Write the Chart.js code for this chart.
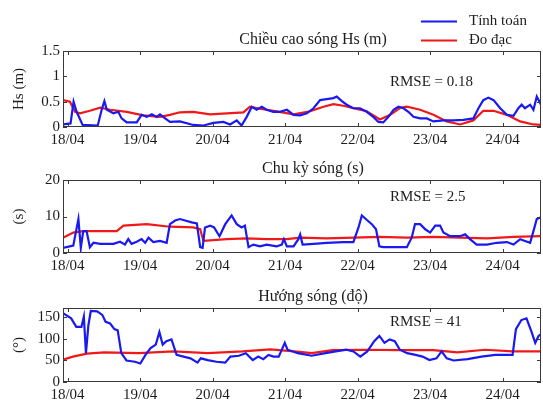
<!DOCTYPE html>
<html>
<head>
<meta charset="utf-8">
<script src="https://cdn.jsdelivr.net/npm/chart.js@4.4.0/dist/chart.umd.min.js"></script>
<style>
  html, body { margin: 0; padding: 0; background: #fff; }
  #wrap { position: relative; width: 543px; height: 405px; }
  .pane { position: absolute; left: 0; width: 543px; }
</style>
</head>
<body>
<div id="wrap">
  <div class="pane" style="top:0;height:150px"><canvas id="cHs" width="543" height="150"></canvas></div>
  <div class="pane" style="top:150px;height:120px"><canvas id="cTp" width="543" height="120"></canvas></div>
  <div class="pane" style="top:270px;height:135px"><canvas id="cDir" width="543" height="135"></canvas></div>
</div>
<script>
// Time axis: hours since 18/04 00:00
const dayTicks = [0, 24, 48, 72, 96, 120, 144];
const dayLabels = ['18/04', '19/04', '20/04', '21/04', '22/04', '23/04', '24/04'];
const timeMin = -1.5;
const timeMax = 156.7;

const seriesNames = ['Tính toán', 'Đo đạc'];

// Wave height Hs (m)
const hsCalcHours = [-1.5, 1, 2, 3, 5, 10, 11.3, 12.2, 13, 15.2, 16.8, 17.9, 19.6, 22.9, 24.5, 26.2, 27.9, 29.5, 30.6, 32.3, 33.9, 37.2, 41.6, 45, 48.3, 51.6, 53.8, 56, 57.6, 59.3, 61, 62.6, 64.3, 65.9, 68.1, 70.3, 72.6, 74.8, 77, 79.2, 81.4, 83.6, 85.8, 88, 89.1, 90.8, 92.4, 94.6, 96.8, 99, 101.2, 102.9, 104.5, 106.2, 107.9, 109.5, 111.2, 112.8, 114.5, 116.7, 118.9, 121.1, 124.4, 127.7, 131, 134.3, 136, 137.6, 139.3, 141, 143.2, 145.4, 147.6, 149.2, 150.3, 151.4, 153.1, 154.2, 155.3, 156.7];
const hsCalcValues = [0.05, 0.07, 0.5, 0.3, 0.04, 0.03, 0.34, 0.51, 0.34, 0.27, 0.3, 0.17, 0.09, 0.09, 0.24, 0.2, 0.25, 0.2, 0.25, 0.17, 0.1, 0.11, 0.04, 0.03, 0.08, 0.1, 0.05, 0.13, 0.03, 0.2, 0.4, 0.34, 0.4, 0.34, 0.3, 0.3, 0.34, 0.24, 0.23, 0.27, 0.37, 0.53, 0.55, 0.57, 0.6, 0.51, 0.44, 0.37, 0.37, 0.3, 0.2, 0.1, 0.09, 0.2, 0.34, 0.4, 0.37, 0.3, 0.2, 0.17, 0.17, 0.11, 0.13, 0.13, 0.14, 0.17, 0.37, 0.53, 0.58, 0.53, 0.37, 0.24, 0.22, 0.37, 0.44, 0.37, 0.44, 0.34, 0.6, 0.44];
const hsObsHours = [-1.5, 0.8, 2.5, 4.1, 7.4, 10.8, 14.1, 19.6, 25.1, 30.6, 33.9, 37.2, 41.6, 47.2, 52.7, 58.2, 60.4, 63.7, 69.2, 74.8, 80.3, 84.7, 88, 91.3, 94.6, 99, 103.4, 106.8, 110.1, 112.3, 116.7, 121.1, 125.5, 129.9, 134.3, 137.6, 141, 145.4, 149.8, 154.2, 156.7];
const hsObsValues = [0.53, 0.5, 0.3, 0.27, 0.32, 0.38, 0.34, 0.3, 0.23, 0.2, 0.24, 0.29, 0.3, 0.25, 0.27, 0.29, 0.4, 0.36, 0.31, 0.25, 0.31, 0.4, 0.45, 0.42, 0.37, 0.31, 0.15, 0.24, 0.38, 0.4, 0.34, 0.24, 0.11, 0.05, 0.13, 0.32, 0.32, 0.24, 0.11, 0.05, 0.04];
const hsTicks = [0, 0.5, 1, 1.5];

// Wave period (s)
const tpCalcHours = [-1.5, 1.9, 3.6, 4.4, 5.2, 6.3, 7.4, 8.6, 10.8, 15.2, 17.4, 19, 20.1, 21.2, 22.9, 24.5, 25.7, 26.8, 28.4, 30.6, 32.8, 33.9, 35.6, 37.2, 38.9, 41.1, 42.8, 43.9, 44.7, 45.5, 47.2, 48.5, 50.3, 52.2, 54.3, 56, 57.6, 58.7, 59.9, 61.5, 63.7, 65.9, 69.2, 70.9, 71.6, 72.6, 74.8, 76.4, 77, 77.8, 81.4, 85.8, 91.3, 94.6, 96.3, 97.4, 99, 100.7, 102.1, 103.2, 104.5, 107.9, 112.3, 113.9, 115, 116.7, 118.4, 120, 121.7, 123.3, 124.4, 126.6, 129.9, 131.6, 133.2, 135.4, 138.8, 142.1, 145.4, 147.6, 149.8, 151.4, 153.1, 154.2, 155.3, 156.7];
const tpCalcValues = [1.4, 2.0, 9.3, 1.4, 6.0, 6.0, 1.6, 2.8, 2.5, 2.5, 3.1, 2.3, 3.8, 2.5, 3.1, 3.8, 2.8, 4.2, 3.0, 3.3, 2.8, 7.9, 8.9, 9.3, 8.9, 8.4, 8.1, 1.6, 1.4, 7.0, 7.5, 7.0, 4.6, 7.9, 10.3, 7.9, 7.0, 7.5, 1.6, 2.3, 1.8, 2.3, 1.8, 2.3, 3.8, 1.8, 1.8, 3.8, 5.1, 2.3, 2.5, 2.8, 3.0, 3.0, 7.0, 10.3, 9.1, 7.9, 6.5, 1.8, 1.6, 1.6, 1.6, 4.2, 7.9, 7.9, 6.5, 5.6, 7.5, 7.5, 5.6, 4.6, 4.6, 5.1, 3.8, 2.3, 2.3, 2.8, 3.0, 2.3, 3.8, 3.3, 2.8, 6.0, 9.3, 9.8];
const tpObsHours = [-1.5, 1.9, 5.2, 16.3, 18.5, 26.2, 33.9, 41.6, 43.9, 45, 52.7, 59.3, 65.9, 72.6, 77, 85.8, 94.6, 103.4, 112.3, 121.1, 129.9, 138.8, 147.6, 156.7];
const tpObsValues = [4.2, 5.6, 6.0, 6.0, 7.5, 7.9, 7.2, 7.0, 6.5, 3.3, 3.8, 4.0, 3.8, 3.8, 4.2, 4.0, 4.2, 4.4, 4.2, 4.4, 4.2, 4.0, 4.4, 4.6];
const tpTicks = [0, 10, 20];

// Wave direction (degrees)
const dirCalcHours = [-1.5, -0.6, 1.2, 2.9, 4.6, 5.4, 6.1, 6.9, 7.7, 9.8, 11.5, 12.6, 14.1, 15.5, 16.6, 17.8, 19.5, 22.3, 24.1, 25.8, 27.5, 29.2, 30.4, 31.5, 32.7, 34.4, 36.1, 38.4, 40.7, 43.0, 44.1, 46.4, 49.3, 52.2, 53.9, 56.7, 59.0, 61.3, 63.1, 64.8, 66.5, 68.2, 69.9, 71.9, 72.8, 76.2, 80.8, 85.4, 88.8, 92.3, 94.6, 96.9, 99.2, 101.5, 103.2, 104.9, 106.6, 108.3, 110.0, 112.4, 115.2, 117.5, 119.8, 122.1, 123.8, 125.5, 127.8, 132.4, 137.0, 141.6, 147.3, 148.4, 150.2, 151.9, 153.6, 154.8, 155.9, 156.7];
const dirCalcValues = [160, 156, 148, 128, 128, 152, 67, 132, 165, 164, 156, 140, 136, 123, 120, 67, 50, 47, 43, 63, 79, 87, 116, 87, 95, 99, 63, 59, 55, 45, 55, 51, 47, 45, 59, 61, 67, 51, 59, 53, 63, 59, 59, 91, 75, 67, 61, 67, 71, 75, 71, 59, 71, 95, 107, 91, 99, 95, 75, 67, 63, 59, 51, 55, 71, 55, 50, 53, 59, 63, 63, 123, 144, 148, 116, 91, 107, 111];
const dirObsHours = [-1.5, 1.8, 6.4, 12.1, 23.6, 35.1, 46.4, 57.9, 67.1, 75.1, 80.8, 87.7, 98.1, 109.5, 121.0, 129.0, 138.2, 147.3, 156.7];
const dirObsValues = [52, 59, 66, 69, 67, 71, 67, 71, 76, 71, 67, 74, 75, 74, 74, 69, 75, 71, 71];
const dirTicks = [0, 50, 100, 150];

const BLUE = 'rgb(25, 25, 240)';
const RED = 'rgb(240, 25, 25)';
const TEXT = '#1c1c1c';
const FONT_FAMILY = '"Liberation Serif", "Times New Roman", serif';

function points(hours, values) {
  return hours.map((h, i) => ({ x: h, y: values[i] }));
}

// Box frame, inward tick marks, panel title, RMSE note and legend
const panelDeco = {
  id: 'panelDeco',
  afterDatasetsDraw(chart, args, opts) {
    const { ctx, chartArea: a, scales } = chart;
    ctx.save();
    ctx.strokeStyle = '#3a3a3a';
    ctx.lineWidth = 1;
    ctx.strokeRect(a.left + 0.5, a.top + 0.5, a.right - a.left - 1, a.bottom - a.top - 1);
    ctx.beginPath();
    scales.x.ticks.forEach(t => {
      const px = Math.round(scales.x.getPixelForValue(t.value)) + 0.5;
      ctx.moveTo(px, a.top); ctx.lineTo(px, a.top + 4);
      ctx.moveTo(px, a.bottom); ctx.lineTo(px, a.bottom - 4);
    });
    scales.y.ticks.forEach(t => {
      const py = Math.round(scales.y.getPixelForValue(t.value)) + 0.5;
      ctx.moveTo(a.left, py); ctx.lineTo(a.left + 4, py);
      ctx.moveTo(a.right, py); ctx.lineTo(a.right - 4, py);
    });
    ctx.stroke();

    ctx.fillStyle = TEXT;
    ctx.font = '16px ' + FONT_FAMILY;
    ctx.textAlign = 'center';
    ctx.textBaseline = 'middle';
    ctx.fillText(opts.title, opts.titleX, a.top - 11);

    ctx.font = '15px ' + FONT_FAMILY;
    ctx.textAlign = 'left';
    ctx.fillText(opts.rmse, 390, a.top + opts.rmseDy);

    if (opts.legend) {
      const rows = [[BLUE, 21.5], [RED, 40.5]];
      rows.forEach(([col, y], i) => {
        ctx.strokeStyle = col;
        ctx.lineWidth = 2.2;
        ctx.beginPath();
        ctx.moveTo(421, y); ctx.lineTo(457, y);
        ctx.stroke();
        ctx.fillText(seriesNames[i], 469, y);
      });
    }
    ctx.restore();
  }
};

function makePanel(id, cfg) {
  const tickFont = { family: FONT_FAMILY, size: 15 };
  return new Chart(document.getElementById(id), {
    type: 'line',
    data: {
      datasets: [
        { label: seriesNames[0], data: points(cfg.calcHours, cfg.calcValues), borderColor: BLUE, borderWidth: 2.2 },
        { label: seriesNames[1], data: points(cfg.obsHours, cfg.obsValues), borderColor: RED, borderWidth: 2.2 }
      ]
    },
    options: {
      responsive: false,
      animation: false,
      events: [],
      elements: { point: { radius: 0 }, line: { tension: 0 } },
      layout: { padding: { top: cfg.padTop, right: 2, left: 0, bottom: 0 } },
      plugins: {
        legend: { display: false },
        tooltip: { enabled: false },
        panelDeco: { title: cfg.title, titleX: 313, rmse: cfg.rmse, rmseDy: cfg.rmseDy, legend: !!cfg.legend }
      },
      scales: {
        x: {
          type: 'linear',
          min: timeMin,
          max: timeMax,
          afterBuildTicks: s => { s.ticks = dayTicks.map(v => ({ value: v })); },
          afterFit: s => { s.height = cfg.xAxisH; },
          grid: { display: false, drawTicks: false },
          border: { display: false },
          ticks: {
            padding: 4, maxRotation: 0, autoSkip: false, color: TEXT, font: tickFont,
            callback: v => dayLabels[dayTicks.indexOf(v)]
          }
        },
        y: {
          min: cfg.yTicks[0],
          max: cfg.yMax,
          afterBuildTicks: s => { s.ticks = cfg.yTicks.map(v => ({ value: v })); },
          afterFit: s => { s.width = 63; },
          grid: { display: false, drawTicks: false },
          border: { display: false },
          ticks: { padding: 3, color: TEXT, font: tickFont, callback: v => String(v) },
          title: {
            display: true, text: cfg.yTitle, color: TEXT,
            font: { family: FONT_FAMILY, size: 15 }, padding: { top: 10, bottom: 0 }
          }
        }
      }
    },
    plugins: [panelDeco]
  });
}

makePanel('cHs', {
  calcHours: hsCalcHours, calcValues: hsCalcValues,
  obsHours: hsObsHours, obsValues: hsObsValues,
  yTicks: hsTicks, yMax: 1.5, yTitle: 'Hs (m)',
  title: 'Chiều cao sóng Hs (m)', rmse: 'RMSE = 0.18', rmseDy: 31,
  padTop: 51, xAxisH: 23, legend: true
});
makePanel('cTp', {
  calcHours: tpCalcHours, calcValues: tpCalcValues,
  obsHours: tpObsHours, obsValues: tpObsValues,
  yTicks: tpTicks, yMax: 20, yTitle: '(s)',
  title: 'Chu kỳ sóng (s)', rmse: 'RMSE = 2.5', rmseDy: 17,
  padTop: 30, xAxisH: 17
});
makePanel('cDir', {
  calcHours: dirCalcHours, calcValues: dirCalcValues,
  obsHours: dirObsHours, obsValues: dirObsValues,
  yTicks: dirTicks, yMax: 172, yTitle: '(°)',
  title: 'Hướng sóng (độ)', rmse: 'RMSE = 41', rmseDy: 14,
  padTop: 38, xAxisH: 23
});
</script>
</body>
</html>
